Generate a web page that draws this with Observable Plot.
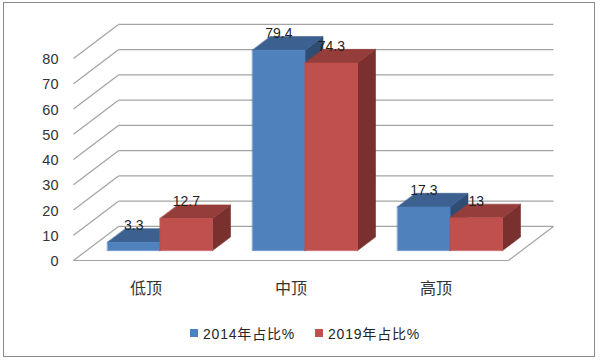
<!DOCTYPE html>
<html>
<head>
<meta charset="utf-8">
<script src="https://cdn.jsdelivr.net/npm/d3@7"></script>
<script src="https://cdn.jsdelivr.net/npm/@observablehq/plot@0.6"></script>
<style>
  html, body { margin: 0; padding: 0; background: #fff; width: 600px; height: 360px; overflow: hidden; }
  #frame { position: absolute; left: 3px; top: 2px; width: 592px; height: 355px; box-sizing: border-box; border: 1px solid #8a8a8a; pointer-events: none; }
  #chart { position: absolute; left: 0; top: 0; }
  #legend { position: absolute; left: 5px; top: 323px; width: 600px; display: flex; justify-content: center; align-items: center;
            font-family: "Liberation Sans", "Noto Sans CJK SC", sans-serif; font-size: 14px; letter-spacing: 0.8px; color: #262626; }
  .item { display: flex; align-items: center; margin: 0 10px; }
  .sw { width: 8px; height: 8px; margin-right: 5px; }
</style>
</head>
<body>
<div id="chart"></div>
<div id="legend"></div>
<div id="frame"></div>
<script>
// ---- data ----
const categories = ["低顶", "中顶", "高顶"];
const seriesNames = ["2014年占比%", "2019年占比%"];
const values2014 = [3.3, 79.4, 17.3];
const values2019 = [12.7, 74.3, 13];
const yTicks = [0, 10, 20, 30, 40, 50, 60, 70, 80];

// ---- styles & 3D geometry (kept separate from data) ----
const seriesStyle = [
  { front: "#4f81bd", top: "#3c6090", side: "#2f4c72", x0: 0.145, x1: 0.507 },
  { front: "#c0504d", top: "#953d3b", side: "#7a302e", x0: 0.507, x1: 0.869 }
];
const WALL_DX = 0.31;   // depth shift in category units
const WALL_DY = 13.5;   // depth shift in value units
const Z0 = 0.29, Z1 = 0.69; // bar front / back depth (0 = front floor edge, 1 = back wall)
const gridColor = "#a3a3a3";
const proj = (x, y, z) => ({ x: x + z * WALL_DX, y: y + z * WALL_DY });

const seriesValues = [values2014, values2019];
const vertices = [];
const labels = [];
seriesValues.forEach((vals, s) => {
  const st = seriesStyle[s];
  vals.forEach((v, i) => {
    const xa = i + st.x0, xb = i + st.x1;
    const faces = [
      ["side",  [[xb, 0, Z0], [xb, 0, Z1], [xb, v, Z1], [xb, v, Z0]]],
      ["top",   [[xa, v, Z0], [xb, v, Z0], [xb, v, Z1], [xa, v, Z1]]],
      ["front", [[xa, 0, Z0], [xb, 0, Z0], [xb, v, Z0], [xa, v, Z0]]]
    ];
    faces.forEach(([face, pts]) =>
      pts.forEach(p => vertices.push({ id: `${s}-${i}-${face}`, color: st[face], ...proj(...p) })));
    labels.push({ text: String(v), x: (xa + xb) / 2 + Z0 * WALL_DX, y: v + Z1 * WALL_DY });
  });
});
const n = categories.length;
const floorEdges = [
  { x1: 0, y1: 0, x2: n, y2: 0 },
  { x1: n, y1: 0, x2: n + WALL_DX, y2: WALL_DY }
];

const chart = Plot.plot({
  width: 600,
  height: 310,
  marginLeft: 73,
  marginRight: 92,
  marginTop: 58,
  marginBottom: 50,
  style: { fontFamily: "'Liberation Sans', 'Noto Sans CJK SC', sans-serif", fontSize: "13px", color: "#333", background: "transparent" },
  x: { domain: [0, n], axis: null },
  y: { domain: [0, 80], axis: null },
  color: { type: "identity" },
  marks: [
    // left wall diagonals
    Plot.link(yTicks, { x1: 0, y1: d => d, x2: WALL_DX, y2: d => d + WALL_DY, stroke: gridColor, strokeWidth: 1.2 }),
    // back wall gridlines
    Plot.link(yTicks, { x1: WALL_DX, y1: d => d + WALL_DY, x2: n + WALL_DX, y2: d => d + WALL_DY, stroke: gridColor, strokeWidth: 1.2 }),
    // floor outline
    Plot.link(floorEdges, { x1: "x1", y1: "y1", x2: "x2", y2: "y2", stroke: gridColor, strokeWidth: 1.2 }),
    // 3D bar faces
    Plot.line(vertices, { x: "x", y: "y", z: "id", fill: "color", stroke: "color", strokeWidth: 0.6, curve: "linear-closed" }),
    // value labels
    Plot.text(labels, { x: "x", y: "y", text: "text", dy: -3, fontSize: 14, fill: "#1f1f1f" }),
    // y tick labels
    Plot.axisY(yTicks, { tickSize: 0, tickPadding: 15, fontSize: 14.5, fill: "#333", label: null, dy: 1 }),
    // category labels
    Plot.text(categories, { x: (d, i) => i + 0.5, y: 0, dy: 28, text: d => d, fontSize: 16, fill: "#333" })
  ]
});
document.getElementById("chart").appendChild(chart);

// legend
const legend = document.getElementById("legend");
seriesNames.forEach((name, s) => {
  const item = document.createElement("div");
  item.className = "item";
  const sw = document.createElement("span");
  sw.className = "sw";
  sw.style.background = seriesStyle[s].front;
  const t = document.createElement("span");
  t.textContent = name;
  item.appendChild(sw);
  item.appendChild(t);
  legend.appendChild(item);
});
</script>
</body>
</html>
